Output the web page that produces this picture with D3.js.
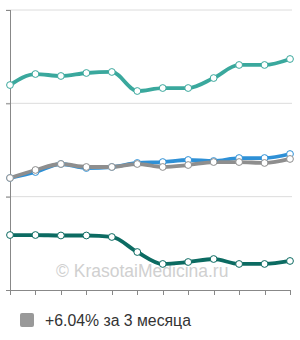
<!DOCTYPE html>
<html>
<head>
  <title>price chart</title>
  <script src="https://d3js.org/d3.v7.min.js"></script>
  <style>
    body { margin: 0; background: #fff; }
    svg { display: block; font-family: "Liberation Sans", Arial, sans-serif; }
  </style>
</head>
<body>
  <div id="chart"></div>
  <script type="text/javascript">
    // 12 points over 3 months
    var steps = d3.range(12)
    var yTicks = [0, 1, 2, 3]
    var topSeries = [2.196, 2.314, 2.293, 2.325, 2.336, 2.132, 2.164, 2.164, 2.271, 2.411, 2.411, 2.475]
    var graySeries = [1.2, 1.286, 1.35, 1.318, 1.318, 1.35, 1.318, 1.339, 1.371, 1.371, 1.361, 1.404]
    var blueSeries = [1.2, 1.264, 1.35, 1.307, 1.318, 1.361, 1.371, 1.393, 1.382, 1.414, 1.414, 1.457]
    var darkSeries = [0.589, 0.589, 0.584, 0.584, 0.568, 0.407, 0.279, 0.3, 0.332, 0.279, 0.279, 0.311]
    var legendText = "+6.04% за 3 месяца"
    var watermark = "© KrasotaiMedicina.ru"

    var width = 300, height = 340
    var svg = d3.select("#chart").append("svg").attr("width", width).attr("height", height)

    var x = d3.scaleLinear().domain([0, 11]).range([10, 290])
    var y = d3.scaleLinear().domain([0, 3]).range([290, 10])

    // gridlines
    svg.append("g").selectAll("line")
      .data(yTicks.slice(1))
      .enter().append("line")
      .attr("x1", 6).attr("x2", 292)
      .attr("y1", d => y(d)).attr("y2", d => y(d))
      .attr("stroke", "#dcdcdc").attr("stroke-width", 1)
    svg.append("g").selectAll("line")
      .data(yTicks)
      .enter().append("line")
      .attr("x1", 6).attr("x2", 10)
      .attr("y1", d => y(d) + 0.5).attr("y2", d => y(d) + 0.5)
      .attr("stroke", "#888")

    // watermark
    svg.append("text")
      .attr("x", 56).attr("y", 277)
      .attr("font-size", 17.5)
      .attr("fill", "#d0d0d0")
      .text(watermark)

    // axes
    svg.append("line").attr("x1", 10.5).attr("x2", 10.5).attr("y1", 10).attr("y2", 290).attr("stroke", "#888")
    svg.append("line").attr("x1", 10).attr("x2", 290).attr("y1", 290.5).attr("y2", 290.5).attr("stroke", "#888")
    svg.append("g").selectAll("line")
      .data(steps)
      .enter().append("line")
      .attr("x1", d => Math.round(x(d)) + 0.5).attr("x2", d => Math.round(x(d)) + 0.5)
      .attr("y1", 290).attr("y2", 295)
      .attr("stroke", "#888")

    var line = d3.line()
      .x((d, i) => x(i))
      .y(d => y(d))
      .curve(d3.curveMonotoneX)

    var series = [
      { values: topSeries, color: "#3aa89d" },
      { values: blueSeries, color: "#2e90d6" },
      { values: graySeries, color: "#8e8e8e" },
      { values: darkSeries, color: "#0c6b62" }
    ]

    series.forEach(s => {
      svg.append("path")
        .datum(s.values)
        .attr("d", line)
        .attr("fill", "none")
        .attr("stroke", s.color)
        .attr("stroke-width", 3.8)
        .attr("stroke-linecap", "round")
    })
    series.forEach(s => {
      svg.append("g").selectAll("circle")
        .data(s.values)
        .enter().append("circle")
        .attr("cx", (d, i) => x(i))
        .attr("cy", d => y(d))
        .attr("r", 3.4)
        .attr("fill", "#fff")
        .attr("stroke", s.color)
        .attr("stroke-width", 1)
    })

    // legend
    svg.append("rect")
      .attr("x", 20).attr("y", 313).attr("width", 14).attr("height", 14)
      .attr("rx", 2)
      .attr("fill", "#999")
    svg.append("text")
      .attr("x", 45).attr("y", 326)
      .attr("font-size", 15.8)
      .attr("fill", "#333")
      .text(legendText)
  </script>
</body>
</html>
